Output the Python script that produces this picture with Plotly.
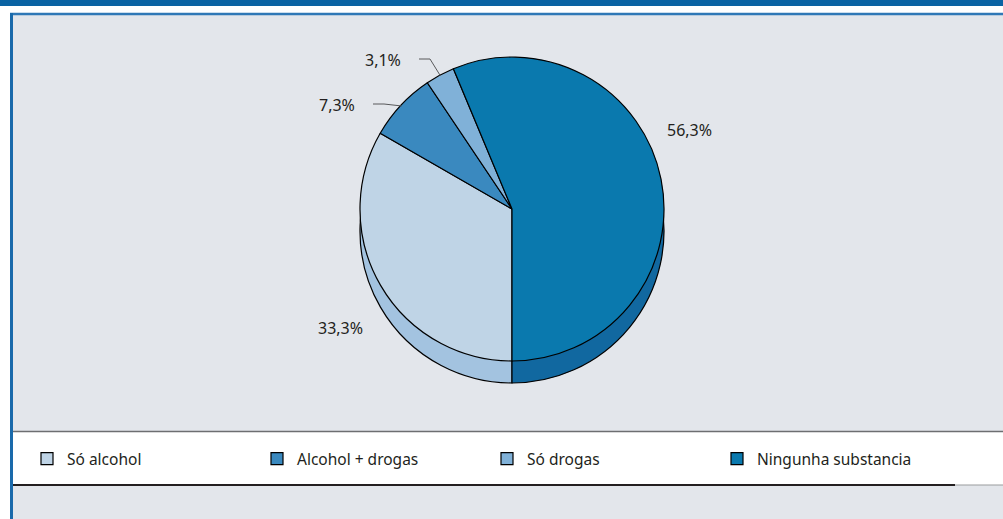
import math
import plotly.graph_objects as go

# ---- data ----
categories = ["Só alcohol", "Alcohol + drogas", "Só drogas", "Ningunha substancia"]
values = [33.3, 7.3, 3.1, 56.3]
value_labels = ["33,3%", "7,3%", "3,1%", "56,3%"]
top_colors = ["#bfd4e6", "#3a89bf", "#80b1d8", "#0a79ae"]
side_colors = ["#a3c3e0", "#2f78ae", "#6a9fcb", "#1168a0"]

# ---- layout constants ----
W, H = 1003, 519
cx, cy, r = 512, 209, 152
depth = 22
font_family = "Noto Sans, Open Sans, DejaVu Sans, sans-serif"
text_color = "#231f20"


def px(x):
    return x / W


def py(y):
    return 1 - y / H


fig = go.Figure()

# extruded side (same data, shifted down)
fig.add_trace(go.Pie(
    labels=categories, values=values, sort=False, direction="clockwise", rotation=180,
    textinfo="none", hoverinfo="skip", showlegend=False,
    marker=dict(colors=side_colors, line=dict(color="#000000", width=1.2)),
    domain=dict(x=[px(cx - r), px(cx + r)], y=[py(cy + depth + r), py(cy + depth - r)]),
))

# top face
fig.add_trace(go.Pie(
    labels=categories, values=values, sort=False, direction="clockwise", rotation=180,
    textinfo="none", hoverinfo="label+percent",
    marker=dict(colors=top_colors, line=dict(color="#000000", width=1.2)),
    domain=dict(x=[px(cx - r), px(cx + r)], y=[py(cy + r), py(cy - r)]),
))

# label positions (layout) for each category
label_pos = {
    "Só alcohol": (340, 328, False),
    "Alcohol + drogas": (337, 105, True),
    "Só drogas": (383, 60, True),
    "Ningunha substancia": (689, 130, False),
}

annotations = []
shapes = []

# frame / background
shapes.append(dict(type="rect", xref="paper", yref="paper", x0=px(10), x1=1.01, y0=-0.01, y1=py(13),
                   fillcolor="#e3e6eb", line=dict(width=0), layer="below"))
shapes.append(dict(type="rect", xref="paper", yref="paper", x0=0, x1=1, y0=py(6), y1=1,
                   fillcolor="#0a63a3", line=dict(width=0), layer="below"))
shapes.append(dict(type="line", xref="paper", yref="paper", x0=px(10), x1=1, y0=py(14), y1=py(14),
                   line=dict(color="#2f78b6", width=2.5), layer="below"))
shapes.append(dict(type="line", xref="paper", yref="paper", x0=px(11.5), x1=px(11.5), y0=0, y1=py(13),
                   line=dict(color="#1a6aab", width=3), layer="below"))
# legend strip
shapes.append(dict(type="rect", xref="paper", yref="paper", x0=px(13), x1=1, y0=py(485), y1=py(432),
                   fillcolor="#ffffff", line=dict(width=0), layer="below"))
shapes.append(dict(type="line", xref="paper", yref="paper", x0=px(13), x1=1, y0=py(431.5), y1=py(431.5),
                   line=dict(color="#6d6e71", width=1.5), layer="below"))
shapes.append(dict(type="line", xref="paper", yref="paper", x0=px(13), x1=px(955), y0=py(485), y1=py(485),
                   line=dict(color="#231f20", width=2), layer="below"))
shapes.append(dict(type="line", xref="paper", yref="paper", x0=px(955), x1=1, y0=py(485), y1=py(485),
                   line=dict(color="#9a9b9e", width=1.2), layer="below"))

total = sum(values)
start = 180.0
for cat, v, txt in zip(categories, values, value_labels):
    span = 360.0 * v / total
    mid = math.radians(start + span / 2)
    start += span
    lx, ly, leader = label_pos[cat]
    annotations.append(dict(x=px(lx), y=py(ly), xref="paper", yref="paper", text=txt, showarrow=False,
                            font=dict(family=font_family, size=16, color=text_color),
                            xanchor="center", yanchor="middle"))
    if leader:
        ex = cx + (r - 1) * math.sin(mid)
        ey = cy - (r - 1) * math.cos(mid)
        x0 = lx + 36
        x1 = x0 + 11
        path = f"M {px(x0)},{py(ly - 1)} L {px(x1)},{py(ly - 1)} L {px(ex)},{py(ey)}"
        shapes.append(dict(type="path", xref="paper", yref="paper", path=path,
                           line=dict(color="#58595b", width=1)))

fig.update_layout(
    width=W, height=H,
    margin=dict(l=0, r=0, t=0, b=0),
    paper_bgcolor="#ffffff",
    plot_bgcolor="#ffffff",
    shapes=shapes,
    annotations=annotations,
    legend=dict(
        orientation="h", x=px(27), xanchor="left", y=py(459), yanchor="middle",
        bgcolor="rgba(0,0,0,0)", entrywidth=185, entrywidthmode="pixels",
        itemwidth=30,
        font=dict(family=font_family, size=15.5, color=text_color),
        traceorder="normal",
    ),
)

fig.write_html("out.html", config={"displayModeBar": False},
               post_script="document.body.style.margin='0';")
